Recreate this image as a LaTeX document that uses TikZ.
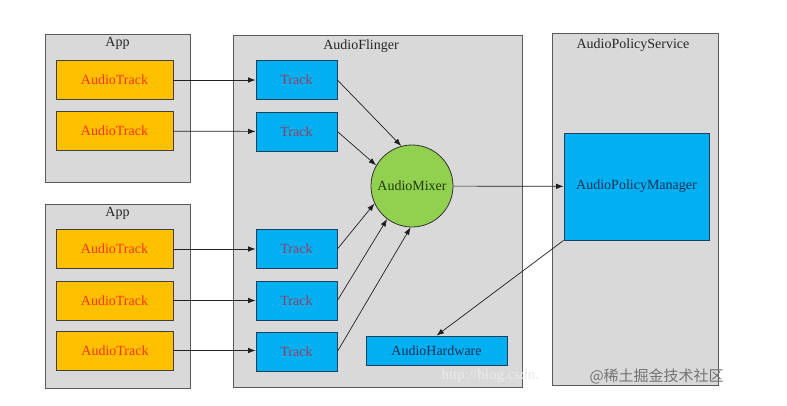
\documentclass[tikz,border=0pt]{standalone}
\usepackage{fontspec}
\setmainfont{Liberation Serif}
\newfontfamily\cjk{Noto Sans CJK SC}
\usetikzlibrary{arrows.meta,shapes.geometric}
\definecolor{grpfill}{HTML}{D9D9D9}
\definecolor{grpline}{HTML}{5A5A5A}
\definecolor{orangefill}{HTML}{FFC000}
\definecolor{redtext}{HTML}{FF3300}
\definecolor{bluefill}{HTML}{00B0F0}
\definecolor{bluedraw}{HTML}{1F3F5F}
\definecolor{tracktext}{HTML}{9B3B63}
\definecolor{greenfill}{HTML}{92D050}
\definecolor{greentext}{HTML}{1E3D0A}
\definecolor{navytext}{HTML}{10305A}
\definecolor{linecol}{HTML}{202020}
\tikzset{
  grp/.style={draw=grpline, fill=grpfill, line width=0.9pt, inner sep=0pt},
  grplbl/.style={font=\fontsize{14}{16}\selectfont, text=black!85},
  atrack/.style={draw=black!75, fill=orangefill, line width=0.8pt, text=redtext,
    minimum width=117pt, minimum height=39pt, inner sep=0pt, font=\fontsize{14}{16}\selectfont},
  trackbox/.style={draw=bluedraw, fill=bluefill, line width=0.8pt, text=tracktext,
    minimum width=81pt, minimum height=39pt, inner sep=0pt, font=\fontsize{14}{16}\selectfont},
  mixer/.style={circle, draw=black!80, fill=greenfill, line width=0.8pt, text=greentext,
    minimum size=82pt, inner sep=0pt, font=\fontsize{14}{16}\selectfont},
  bluebox/.style={draw=bluedraw, fill=bluefill, line width=0.8pt, text=navytext,
    inner sep=0pt, font=\fontsize{14}{16}\selectfont},
  arr/.style={-{Latex[length=7.5pt,width=5.5pt]}, line width=0.7pt, draw=linecol},
  wm/.style={font=\fontsize{15}{17}\selectfont}
}
\begin{document}
\begin{tikzpicture}[x=1pt,y=-1pt]
\useasboundingbox (0,0) rectangle (787,405);
\fill[white] (0,0) rectangle (787,405);
% groups
\node[grp, minimum width=145pt, minimum height=148pt] (app1) at (117.5,108) {};
\node[grplbl] (app1l) at (117.5,43) {App};
\node[grp, minimum width=145pt, minimum height=184pt] (app2) at (117.5,296) {};
\node[grplbl] (app2l) at (117.5,213) {App};
\node[grp, minimum width=289pt, minimum height=352pt] (af) at (377.5,211) {};
\node[grplbl] (afl) at (361,46) {AudioFlinger};
\node[grp, minimum width=166pt, minimum height=352pt] (aps) at (635,209) {};
\node[grplbl] (apsl) at (633,45) {AudioPolicyService};
% audio tracks
\node[atrack] (at1) at (114.5,80) {AudioTrack};
\node[atrack] (at2) at (114.5,131) {AudioTrack};
\node[atrack] (at3) at (114.5,249) {AudioTrack};
\node[atrack] (at4) at (114.5,300.5) {AudioTrack};
\node[atrack] (at5) at (115,350.5) {AudioTrack};
% tracks
\node[trackbox] (t1) at (296.5,80) {Track};
\node[trackbox] (t2) at (296.5,131.5) {Track};
\node[trackbox] (t3) at (296.5,249) {Track};
\node[trackbox] (t4) at (296.5,300.5) {Track};
\node[trackbox] (t5) at (296.5,351.5) {Track};
% mixer
\node[mixer] (mix) at (412,186) {AudioMixer};
% hardware and policy manager
\node[bluebox, minimum width=141pt, minimum height=29pt] (hw) at (436.5,350.5) {AudioHardware};
\node[bluebox, minimum width=145pt, minimum height=107pt] (apm) at (636.5,186.5) {AudioPolicyManager};
% connectors
\draw[arr] (at1) -- (t1);
\draw[arr] (at2) -- (t2);
\draw[arr] (at3) -- (t3);
\draw[arr] (at4) -- (t4);
\draw[arr] (at5.east) -- (t5.west |- at5.east);
\draw[arr] (t1.east) -- (mix.105);
\draw[arr] (t2.east) -- (mix.150);
\draw[arr] (t3.east) -- (mix.205);
\draw[arr] (t4.east) -- (mix.233);
\draw[arr] (t5.east) -- (mix.268);
\draw[arr] (mix) -- (apm);
\draw[arr] (apm.south west) -- (hw.north);
% watermarks
\node[wm, text=white!45!grpfill, anchor=west] (wm1) at (438,376) {http://blog.csdn.};
\node[wm, text=black!55, anchor=west, font=\cjk\fontsize{15}{17}\selectfont] (wm2) at (586,376) {@稀土掘金技术社区};
\end{tikzpicture}
\end{document}
